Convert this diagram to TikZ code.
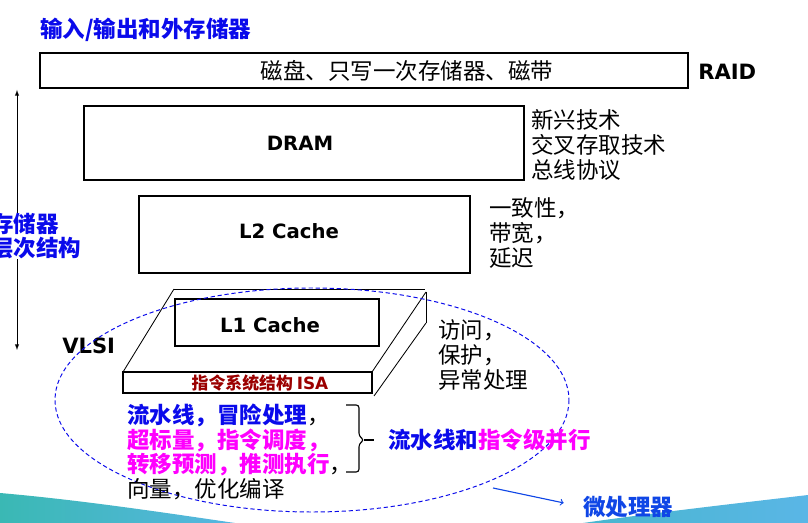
\documentclass[tikz,border=0pt]{standalone}
\usepackage{fontspec}
\setmainfont{Noto Sans CJK SC}
\newfontfamily\labfont{DejaVu Sans}
\usepackage{xcolor}
\usepackage{tikz}
\usetikzlibrary{calc}

\definecolor{hierblue}{RGB}{10,10,235}
\definecolor{microblue}{RGB}{15,70,230}
\definecolor{hiermag}{RGB}{255,0,255}
\definecolor{isared}{RGB}{155,0,0}
\definecolor{swteal}{RGB}{58,184,180}
\definecolor{swmid}{RGB}{72,182,206}
\definecolor{swlight}{RGB}{90,182,230}

\tikzset{
	box/.style={draw, line width=1pt},
	cjk/.style={font=\fontsize{16}{17.5}\selectfont, inner sep=0pt, align=left},
	cjkb/.style={font=\fontsize{16}{17.5}\selectfont\bfseries, inner sep=0pt, align=left},
	lab/.style={font=\labfont\bfseries\fontsize{14}{16}\selectfont, inner sep=0pt},
}

\begin{document}
\begin{tikzpicture}[x=0.025cm, y=-0.025cm]
						\useasboundingbox (0,0) rectangle (808,523);
						
						\shade[left color=swteal, right color=swlight!90!swteal] (0,493) .. controls (80,500) and (160,512) .. (235,523) -- (0,523) -- cycle;
						\shade[left color=swmid, right color=swlight] (583,523) .. controls (660,512) and (740,503) .. (808,495) -- (808,523) -- cycle;
						
						\node[cjkb, text=hierblue, anchor=west] (Title) at (40,30) {输入/输出和外存储器};
						
						\coordinate (DiskNW) at (40,53);
						\coordinate (DiskSE) at (688,88);
						\draw[box] (DiskNW) rectangle (DiskSE);
						\node[cjk] (Disk) at (407,71) {磁盘、只写一次存储器、磁带};
						\node[lab, font=\labfont\bfseries\fontsize{15}{17}\selectfont, anchor=west] (Raid) at (698,72) {RAID};
						
						\coordinate (DramNW) at (84,106);
						\coordinate (DramSE) at (524,180);
						\draw[box] (DramNW) rectangle (DramSE);
						\node[lab] (Dram) at (300,143) {DRAM};
						\node[cjk, anchor=west] (DramNote) at (531,145) {新兴技术\\交叉存取技术\\总线协议};
						
						\coordinate (LtwoNW) at (139,196);
						\coordinate (LtwoSE) at (470,273);
						\draw[box] (LtwoNW) rectangle (LtwoSE);
						\node[lab] (Ltwo) at (289,231) {L2 Cache};
						\node[cjk, anchor=west] (LtwoNote) at (489,233) {一致性，\\带宽，\\延迟};
						
						\coordinate (HierTop) at (17,90);
						\coordinate (HierBot) at (17,350);
						\node[cjkb, text=hierblue, anchor=west] (Hier) at (-9,236) {存储器\\层次结构};
						\draw[>=latex, ->] (Hier.north -| HierTop) -- (HierTop);
						\draw[>=latex, ->] (Hier.south -| HierBot) -- (HierBot);
						
						\node[lab, font=\labfont\bfseries\fontsize{15}{17}\selectfont, anchor=west] (Vlsi) at (62,346) {VLSI};
						
						\coordinate (SlabBL) at (174,289);
						\coordinate (SlabBR) at (425,289);
						\coordinate (SlabRT) at (426,292);
						\coordinate (SlabRB) at (426,323);
						\coordinate (SlabFoot) at (374,396);
						\coordinate (IsaNW) at (123,372);
						\coordinate (IsaNE) at (372,372);
						\coordinate (IsaSE) at (372,393);
						\draw[line width=0.6pt] (SlabBL) -- (SlabBR);
						\draw[line width=0.6pt] (SlabBL) -- (IsaNW);
						\draw[line width=0.6pt] (SlabRT) -- (SlabRB);
						\draw[line width=0.6pt] (SlabRT) -- (IsaNE);
						\draw[line width=0.6pt] (SlabRB) -- (SlabFoot);
						\draw[box] (IsaNW) rectangle (IsaSE);
						\node[font=\fontsize{12}{14}\selectfont\bfseries, text=isared, inner sep=0pt] (Isa) at (260,383) {指令系统结构 {\labfont ISA}};
						
						\coordinate (LoneNW) at (175,299);
						\coordinate (LoneSE) at (379,346);
						\draw[box] (LoneNW) rectangle (LoneSE);
						\node[lab] (Lone) at (270,325) {L1 Cache};
						\node[cjk, anchor=west] (LoneNote) at (438,355) {访问，\\保护，\\异常处理};
						
						\draw[hierblue, line width=0.7pt, dash pattern=on 3pt off 2pt] (312,400) ellipse [x radius=257, y radius=112];
						
						\node[cjk, anchor=west] (Ilp) at (127,452) {{\bfseries\color{hierblue}流水线，冒险处理}，\\{\bfseries\color{hiermag}超标量，指令调度，}\\{\bfseries\color{hiermag}转移预测，推测执行}，\\向量，优化编译};
						\coordinate (BraceTip) at (364,440);
						\draw[line width=0.8pt, rounded corners=2pt] (346,405) -- (359,405) -- (359,436) -- (BraceTip) -- (359,444) -- (359,472) -- (346,472);
						\node[cjkb, anchor=west] (IlpNote) at (388,440) {{\color{hierblue}流水线和}{\color{hiermag}指令级并行}};
						\draw[line width=0.8pt, shorten >=10pt] (BraceTip) -- (IlpNote.west);
						
						\coordinate (MicroFrom) at (493,488);
						\node[cjkb, text=microblue, anchor=west] (Micro) at (583,507) {微处理器};
						\draw[microblue, line width=0.8pt, >=to, ->, shorten >=14pt] (MicroFrom) -- (Micro.west);
						\end{tikzpicture}
\end{document}
